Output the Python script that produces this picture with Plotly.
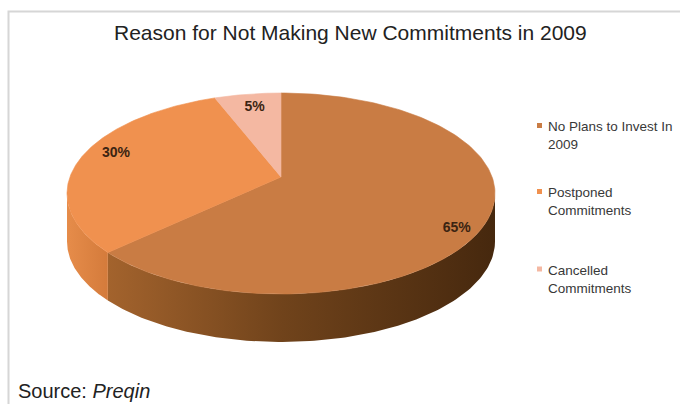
import numpy as np
import plotly.graph_objects as go

# ---------------- data ----------------
categories = ["No Plans to Invest In 2009", "Postponed Commitments", "Cancelled Commitments"]
legend_labels = ["No Plans to Invest In<br>2009", "Postponed<br>Commitments", "Cancelled<br>Commitments"]
values = [65, 30, 5]
title_text = "Reason for Not Making New Commitments in 2009"
source_text = "Source: <i>Preqin</i>"

# ---------------- style ----------------
FONT = "Liberation Sans, Arial, sans-serif"
top_colors = ["#c97c44", "#f0914f", "#f4b8a2"]
side_scales = [
    [[0, "#a3632d"], [0.45, "#70431b"], [1, "#46280e"]],
    [[0, "#e68c4a"], [1, "#d47b3b"]],
    [[0, "#f0b096"], [1, "#e0a088"]],
]
legend_colors = top_colors
label_color = "#3b2412"

W, H = 680, 404
CX, CY = 281.0, 193.5      # rim ellipse centre (pixels)
A, B = 214.0, 100.5        # semi axes
APEX = (281.0, 177.0)      # perspective-shifted pie centre
DEPTH = 48.0
LABEL_K = 0.88
label_nudge = [(8, -3), (14, -11), (3, 3)]


def rim(theta_deg):
    t = np.radians(theta_deg)
    return CX + A * np.sin(t), CY - B * np.cos(t)


total = float(sum(values))
ends = np.cumsum(values) / total * 360.0
starts = np.concatenate([[0.0], ends[:-1]])

fig = go.Figure()

# sides (front half only: 90..270 deg clockwise from top)
for i in range(len(values)):
    lo, hi = max(starts[i], 90.0), min(ends[i], 270.0)
    if hi <= lo:
        continue
    th = np.linspace(lo, hi, 120)
    xs, ys = rim(th)
    px = np.concatenate([xs, xs[::-1], xs[:1]])
    py = np.concatenate([ys, (ys + DEPTH)[::-1], ys[:1]])
    fig.add_trace(go.Scatter(
        x=px, y=py, mode="lines", fill="toself",
        line=dict(width=0), fillcolor=top_colors[i],
        fillgradient=dict(type="horizontal", colorscale=side_scales[i]),
        hoverinfo="skip", showlegend=False))

# top faces
for i in range(len(values)):
    th = np.linspace(starts[i], ends[i], 200)
    xs, ys = rim(th)
    px = np.concatenate([[APEX[0]], xs, [APEX[0]]])
    py = np.concatenate([[APEX[1]], ys, [APEX[1]]])
    fig.add_trace(go.Scatter(
        x=px, y=py, mode="lines", fill="toself",
        line=dict(width=0.6, color=top_colors[i]), fillcolor=top_colors[i],
        name=categories[i], hoverinfo="name", showlegend=False))

# data labels
lx, ly, lt = [], [], []
for i in range(len(values)):
    mid = (starts[i] + ends[i]) / 2
    rx, ry = rim(mid)
    lx.append(APEX[0] + LABEL_K * (rx - APEX[0]) + label_nudge[i][0])
    ly.append(APEX[1] + LABEL_K * (ry - APEX[1]) + label_nudge[i][1])
    lt.append(f"{values[i] / total * 100:.0f}%")
fig.add_trace(go.Scatter(
    x=lx, y=ly, mode="text", text=lt,
    textfont=dict(family=FONT, size=14, color=label_color, weight="bold"),
    hoverinfo="skip", showlegend=False))

shapes = [dict(type="rect", xref="x", yref="y", x0=8.5, y0=11.5, x1=720, y1=440,
               line=dict(color="#d6d6d6", width=2), fillcolor="rgba(0,0,0,0)", layer="below")]
annotations = []
leg_y = [125.5, 191.5, 269.0]
for i in range(len(values)):
    shapes.append(dict(type="rect", xref="x", yref="y", x0=537, x1=542,
                       y0=leg_y[i] - 2.5, y1=leg_y[i] + 2.5,
                       line=dict(width=0), fillcolor=legend_colors[i]))
    annotations.append(dict(x=546, y=leg_y[i] - 8.5, xref="x", yref="y",
                            xanchor="left", yanchor="top", align="left",
                            text=legend_labels[i], showarrow=False,
                            font=dict(family=FONT, size=13.5, color="#383838")))

annotations.append(dict(x=350, y=32, xref="x", yref="y", xanchor="center", yanchor="middle",
                        text=title_text, showarrow=False,
                        font=dict(family=FONT, size=21, color="#222222")))
annotations.append(dict(x=17, y=403, xref="x", yref="y", xanchor="left", yanchor="bottom",
                        text=source_text, showarrow=False, borderpad=0,
                        font=dict(family=FONT, size=20, color="#222222")))

fig.update_layout(
    width=W, height=H, autosize=False,
    margin=dict(l=0, r=0, t=0, b=0),
    paper_bgcolor="white", plot_bgcolor="white",
    xaxis=dict(range=[0, W], visible=False, fixedrange=True),
    yaxis=dict(range=[H, 0], visible=False, fixedrange=True),
    shapes=shapes, annotations=annotations, showlegend=False,
)

fig.write_html("out.html")
